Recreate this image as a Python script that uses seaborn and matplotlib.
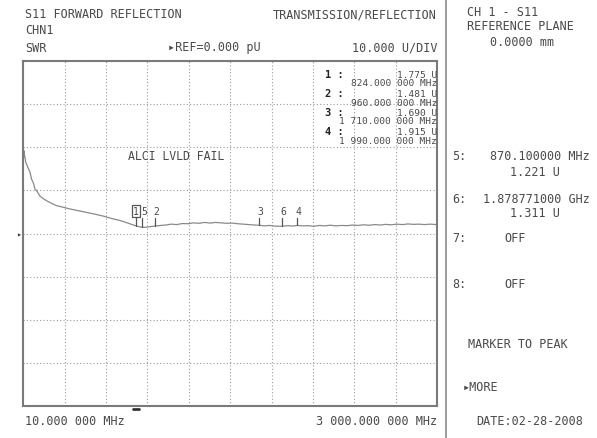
import numpy as np
import pandas as pd
import seaborn as sns
import matplotlib.pyplot as plt

sns.set_style('white')
plt.rcParams['font.family'] = ['DejaVu Sans Mono', 'DejaVu Sans']

# ---------------------------------------------------------------
# trace data (SWR, U)
# ---------------------------------------------------------------
freq_mhz = [10, 15, 20, 28, 35, 45, 58, 70, 82, 95, 110, 130, 155, 180, 215,
            250, 300, 350, 410, 470, 530, 590, 650, 715, 770, 824, 850, 870,
            900, 935, 960, 1000, 1040, 1080, 1120, 1160, 1200, 1240, 1280,
            1320, 1360, 1400, 1440, 1480, 1520, 1560, 1600, 1640, 1680, 1710,
            1750, 1790, 1830, 1879, 1920, 1960, 1990, 2030, 2070, 2110, 2150,
            2190, 2230, 2270, 2310, 2350, 2390, 2430, 2470, 2510, 2550, 2590,
            2630, 2670, 2710, 2750, 2790, 2830, 2870, 2910, 2950, 3000]
swr = [17.0, 19.2, 18.0, 16.5, 16.0, 15.2, 14.3, 12.6, 11.8, 10.3, 9.8, 8.7,
       8.1, 7.6, 7.0, 6.5, 6.1, 5.7, 5.3, 4.9, 4.5, 4.05, 3.5, 3.0, 2.4, 1.8,
       1.6, 1.45, 1.5, 1.65, 1.75, 1.9, 2.0, 2.2, 2.1, 2.35, 2.3, 2.5, 2.4,
       2.6, 2.45, 2.6, 2.5, 2.4, 2.45, 2.3, 2.2, 2.1, 2.0, 1.95, 1.8, 1.9,
       1.75, 1.7, 1.85, 1.75, 1.9, 1.8, 1.85, 1.7, 1.9, 1.8, 1.95, 1.8, 1.9,
       1.85, 2.0, 1.9, 2.05, 1.95, 2.1, 2.0, 2.15, 2.05, 2.2, 2.1, 2.25, 2.15,
       2.2, 2.1, 2.2, 2.1]

# markers on the trace
marker_ids = ['1', '5', '2', '3', '6', '4']
marker_freq = [824.0, 870.1, 960.0, 1710.0, 1878.771, 1990.0]

# marker readout in the plot
list_ids = ['1', '2', '3', '4']
list_vals = ['1.775 U', '1.481 U', '1.690 U', '1.915 U']
list_freqs = ['824.000 000 MHz', '960.000 000 MHz',
              '1 710.000 000 MHz', '1 990.000 000 MHz']

df = pd.DataFrame({'freq': freq_mhz, 'swr': swr})

W, H = 597, 439
fig = plt.figure(figsize=(W / 100, H / 100), dpi=100)
fig.patch.set_facecolor('white')

# plot box in pixels
x0, x1, y0, y1 = 23.3, 437, 62, 407.3
ax = fig.add_axes([x0 / W, 1 - y1 / H, (x1 - x0) / W, (y1 - y0) / H])

txt = '#4a4a4a'


def px(x, y):
    return x / W, 1 - y / H


sns.lineplot(data=df, x='freq', y='swr', ax=ax, color='#8a8a8a', lw=0.9)

ax.set_xlim(10, 3000)
ax.set_ylim(-40, 40)
ax.set_xticks(np.linspace(10, 3000, 11))
ax.set_yticks(np.linspace(-40, 40, 9))
ax.tick_params(length=0, labelbottom=False, labelleft=False)
ax.set_xlabel('')
ax.set_ylabel('')
ax.grid(True, color='#9a9a9a', lw=0.8, ls=(0, (1, 2)))
for s in ax.spines.values():
    s.set_color('#7a7a7a')
    s.set_linewidth(1.5)

# marker ticks and numbers (labels sit a little left of the tick)
for mid, mf in zip(marker_ids, marker_freq):
    yv = np.interp(mf, freq_mhz, swr)
    ax.plot([mf, mf], [yv, 3.6], color='#555555', lw=0.9)
    if mid == '1':
        ax.text(mf, 5.3, mid, ha='center', va='center', fontsize=7, color=txt,
                bbox=dict(boxstyle='square,pad=0.1', fc='white', ec='#555555', lw=0.9))
    else:
        ax.text(mf + 12, 5.3, mid, ha='center', va='center', fontsize=7, color=txt)

# active marker dash under the frame
ax.plot([800, 848], [-40.6, -40.6], color='#333333', lw=2, clip_on=False)

fig.text(*px(128, 157), 'ALCI LVLD FAIL', fontsize=8.3, color=txt, va='center')

# marker readout list
list_y = [75, 94, 113, 132]
for mid, mv, mfq, yy in zip(list_ids, list_vals, list_freqs, list_y):
    fig.text(*px(325, yy), mid + ' :', fontsize=7.5, color='#222222',
             fontweight='bold', va='center')
    fig.text(*px(437, yy + 0.5), mv, fontsize=6.8, color=txt, ha='right', va='center')
    fig.text(*px(437, yy + 9), mfq, fontsize=6.8, color=txt, ha='right', va='center')

# header
fig.text(*px(25, 15), 'S11 FORWARD REFLECTION', fontsize=8.5, color=txt, va='center')
fig.text(*px(437, 15), 'TRANSMISSION/REFLECTION', fontsize=8.5, color=txt,
         ha='right', va='center')
fig.text(*px(25, 31), 'CHN1', fontsize=8.5, color=txt, va='center')
fig.text(*px(25, 48), 'SWR', fontsize=8.5, color=txt, va='center')
fig.text(*px(168, 48), '▸REF=0.000 pU', fontsize=8.5, color=txt, va='center')
fig.text(*px(437, 48), '10.000 U/DIV', fontsize=8.5, color=txt, ha='right', va='center')
fig.text(*px(19, 235), '▸', fontsize=6, color='#333333', ha='center', va='center')

# footer
fig.text(*px(25, 422), '10.000 000 MHz', fontsize=8.5, color=txt, va='center')
fig.text(*px(437, 422), '3 000.000 000 MHz', fontsize=8.5, color=txt,
         ha='right', va='center')

# side panel
fig.add_artist(plt.Line2D([446 / W, 446 / W], [0, 1], color='#8a8a8a', lw=1.2))
fig.text(*px(467, 13), 'CH 1 - S11', fontsize=8.5, color=txt, va='center')
fig.text(*px(467, 26), 'REFERENCE PLANE', fontsize=8.5, color=txt, va='center')
fig.text(*px(522, 42), '0.0000 mm', fontsize=8.5, color=txt, ha='center', va='center')

fig.text(*px(452, 157), '5:', fontsize=8.5, color=txt, va='center')
fig.text(*px(590, 157), '870.100000 MHz', fontsize=8.5, color=txt, ha='right', va='center')
fig.text(*px(535, 172), '1.221 U', fontsize=8.5, color=txt, ha='center', va='center')
fig.text(*px(452, 200), '6:', fontsize=8.5, color=txt, va='center')
fig.text(*px(590, 200), '1.878771000 GHz', fontsize=8.5, color=txt, ha='right', va='center')
fig.text(*px(535, 214), '1.311 U', fontsize=8.5, color=txt, ha='center', va='center')
fig.text(*px(452, 239), '7:', fontsize=8.5, color=txt, va='center')
fig.text(*px(515, 239), 'OFF', fontsize=8.5, color=txt, ha='center', va='center')
fig.text(*px(452, 285), '8:', fontsize=8.5, color=txt, va='center')
fig.text(*px(515, 285), 'OFF', fontsize=8.5, color=txt, ha='center', va='center')
fig.text(*px(518, 345), 'MARKER TO PEAK', fontsize=8.5, color=txt, ha='center', va='center')
fig.text(*px(463, 388), '▸MORE', fontsize=8.5, color=txt, va='center')
fig.text(*px(530, 422), 'DATE:02-28-2008', fontsize=8.5, color=txt, ha='center', va='center')

fig.savefig('out.png', dpi=100, facecolor='white')
